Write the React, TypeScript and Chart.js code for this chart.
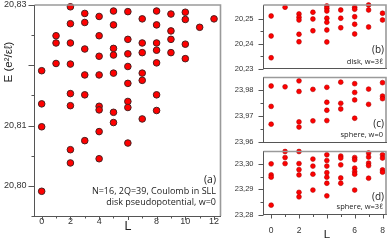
import React, { useEffect, useRef } from 'react';
import { Chart, registerables } from 'chart.js';

Chart.register(...registerables);

// ---------- DATA ----------
// Angular momentum values (x categories)
const mainL = [0, 1, 2, 3, 4, 5, 6, 7, 8, 9, 10, 11, 12];
const smallL = [0, 1, 2, 3, 4, 5, 6, 7, 8];

// Panel (a): energies per L (index = L), disk pseudopotential, w=0
const energiesA: number[][] = [
  [20.8191, 20.8136, 20.8098, 20.7991],
  [20.8249, 20.8237, 20.8203],
  [20.8297, 20.8269, 20.8237, 20.8202, 20.8153, 20.8133, 20.8060, 20.8038],
  [20.8286, 20.8271, 20.8227, 20.8184, 20.8151, 20.8075],
  [20.8281, 20.8249, 20.8215, 20.8184, 20.8132, 20.8126, 20.8090, 20.8045],
  [20.8290, 20.8267, 20.8228, 20.8217, 20.8187, 20.8122, 20.8105],
  [20.8289, 20.8243, 20.8219, 20.8198, 20.8170, 20.8140, 20.8130, 20.8071],
  [20.8277, 20.8237, 20.8221, 20.8187, 20.8175, 20.8111],
  [20.8290, 20.8267, 20.8237, 20.8225, 20.8204, 20.8151, 20.8125],
  [20.8285, 20.8257, 20.8243, 20.8221],
  [20.8288, 20.8276, 20.8235, 20.8211],
  [20.8263],
  [20.8277],
];

// Panel (b): disk, w=3l
const energiesB: number[][] = [
  [20.2510, 20.2430, 20.2343],
  [20.2545],
  [20.2518, 20.2505, 20.2494, 20.2437, 20.2407],
  [20.2525, 20.2498, 20.2451],
  [20.2550, 20.2541, 20.2530, 20.2501, 20.2485, 20.2454, 20.2406],
  [20.2534, 20.2501, 20.2463],
  [20.2545, 20.2537, 20.2507, 20.2477, 20.2438],
  [20.2554, 20.2534, 20.2466],
  [20.2521, 20.2494],
];

// Panel (c): sphere, w=0
const energiesC: number[][] = [
  [23.9817, 23.9738, 23.9669],
  [23.9814],
  [23.9837, 23.9796, 23.9678, 23.9658],
  [23.9804, 23.9682],
  [23.9812, 23.9754, 23.9723, 23.9683],
  [23.9832, 23.9750, 23.9728],
  [23.9826, 23.9792, 23.9763, 23.9692],
  [23.9805, 23.9746],
  [23.9830, 23.9778, 23.9768],
];

// Panel (d): sphere, w=3l
const energiesD: number[][] = [
  [23.3001, 23.2957, 23.2948, 23.2837],
  [23.3050, 23.3026, 23.3002],
  [23.3050, 23.3002, 23.2978, 23.2957, 23.2888, 23.2870],
  [23.3020, 23.2992, 23.2960, 23.2897],
  [23.3037, 23.3014, 23.2992, 23.2966, 23.2948, 23.2924, 23.2874],
  [23.3032, 23.3024, 23.2997, 23.2945, 23.2924],
  [23.3026, 23.3017, 23.2984, 23.2970, 23.2960, 23.2897],
  [23.3044, 23.3028, 23.3004, 23.2994, 23.2944],
  [23.3037, 23.3024, 23.2977, 23.2968],
];

// Tick values
const mainYTicks = [20.795, 20.80, 20.805, 20.81, 20.815, 20.82, 20.825, 20.83];
const mainYLabels = [20.80, 20.81, 20.83];
const mainXLabels = [0, 2, 4, 8, 10, 12];
const bYTicks = [20.23, 20.235, 20.24, 20.245, 20.25];
const cYTicks = [23.96, 23.965, 23.97, 23.975, 23.98];
const dYTicks = [23.28, 23.285, 23.29, 23.295, 23.30];
const smallXLabels = [0, 2, 6, 8];

// ---------- STYLE ----------
const FONT = 'Liberation Sans, Arial, sans-serif';
const NOTE_FONT = 'Open Sans, Liberation Sans, sans-serif';
const AXIS_DARK = '#555555';
const FRAME_GRAY = '#9a9a9a';
const TEXT = '#222222';

type Note = { text: string; x: number; y: number; size: number; align: CanvasTextAlign; rotate?: boolean; family?: string };

const near = (a: number, b: number) => Math.abs(a - b) < 1e-9;
const isMultiple = (v: number, step: number) => Math.abs(v / step - Math.round(v / step)) < 1e-6;

const panelPlugin = {
  id: 'panelDeco',
  afterDraw(chart: any, _args: any, opts: any) {
    const { ctx, chartArea } = chart;
    const { left, right, top, bottom } = chartArea;
    ctx.save();
    // grey frame top & right
    ctx.strokeStyle = FRAME_GRAY;
    ctx.lineWidth = 1.6;
    ctx.beginPath();
    ctx.moveTo(left, top);
    ctx.lineTo(right, top);
    ctx.lineTo(right, bottom);
    ctx.stroke();
    // ticks
    ctx.strokeStyle = AXIS_DARK;
    ctx.lineWidth = 1;
    const ys = chart.scales.y;
    ys.ticks.forEach((t: any) => {
      const p = Math.round(ys.getPixelForValue(t.value)) + 0.5;
      const len = isMultiple(t.value, 0.01) ? opts.yMajorLen : opts.yMinorLen;
      ctx.beginPath();
      ctx.moveTo(left, p);
      ctx.lineTo(left - len, p);
      ctx.stroke();
    });
    if (opts.xTicks) {
      const xs = chart.scales.x;
      xs.ticks.forEach((t: any) => {
        const p = Math.round(xs.getPixelForValue(t.value)) + 0.5;
        const len = isMultiple(t.value, 2) ? opts.xMajorLen : opts.xMinorLen;
        ctx.beginPath();
        ctx.moveTo(p, bottom);
        ctx.lineTo(p, bottom + len);
        ctx.stroke();
      });
    }
    // notes
    ctx.fillStyle = TEXT;
    (opts.notes as Note[]).forEach((n) => {
      ctx.save();
      ctx.font = `${n.size}px ${n.family || NOTE_FONT}`;
      ctx.textAlign = n.align;
      ctx.textBaseline = 'middle';
      ctx.translate(n.x, n.y);
      if (n.rotate) ctx.rotate(-Math.PI / 2);
      ctx.fillText(n.text, 0, 0);
      ctx.restore();
    });
    ctx.restore();
  },
};

type PanelSpec = {
  Ls: number[];
  energies: number[][];
  xMin: number; xMax: number;
  yMin: number; yMax: number;
  yTicks: number[];
  yLabels: number[] | null;
  xLabels: number[] | null;
  yWidth: number; xHeight: number;
  padding: { left: number; right: number; top: number; bottom: number };
  yFont: number; xFont: number;
  yPad: number; xPad: number;
  radius: number; border: number; borderColor: string;
  xTicks: boolean;
  yMajorLen: number; yMinorLen: number; xMajorLen: number; xMinorLen: number;
  notes: Note[];
};

function buildConfig(p: PanelSpec): any {
  const data: { x: number; y: number }[] = [];
  p.energies.forEach((arr, i) => arr.forEach((e) => data.push({ x: p.Ls[i], y: e })));
  const xTickVals: number[] = [];
  for (let v = Math.ceil(p.xMin); v <= p.xMax; v++) xTickVals.push(v);
  return {
    type: 'scatter',
    data: {
      datasets: [
        {
          data,
          backgroundColor: '#ff0000',
          borderColor: p.borderColor,
          borderWidth: p.border,
          pointRadius: p.radius,
          pointHoverRadius: p.radius,
          clip: false,
        },
      ],
    },
    options: {
      responsive: false,
      animation: false,
      events: [],
      layout: { padding: p.padding },
      plugins: {
        legend: { display: false },
        tooltip: { enabled: false },
        panelDeco: {
          notes: p.notes,
          xTicks: p.xTicks,
          yMajorLen: p.yMajorLen, yMinorLen: p.yMinorLen,
          xMajorLen: p.xMajorLen, xMinorLen: p.xMinorLen,
        },
      },
      scales: {
        x: {
          type: 'linear',
          min: p.xMin,
          max: p.xMax,
          afterBuildTicks: (s: any) => { s.ticks = xTickVals.map((v) => ({ value: v })); },
          afterFit: (s: any) => { s.height = p.xHeight; s.paddingLeft = 0; s.paddingRight = 0; },
          grid: { display: false, drawTicks: false },
          border: { display: true, color: AXIS_DARK, width: 1 },
          ticks: {
            display: !!p.xLabels,
            autoSkip: false,
            maxRotation: 0,
            padding: p.xPad,
            color: '#333',
            font: { family: FONT, size: p.xFont },
            callback: (v: number) => (p.xLabels && p.xLabels.some((l) => near(l, v)) ? String(v) : ''),
          },
        },
        y: {
          type: 'linear',
          min: p.yMin,
          max: p.yMax,
          afterBuildTicks: (s: any) => { s.ticks = p.yTicks.map((v) => ({ value: v })); },
          afterFit: (s: any) => { s.width = p.yWidth; s.paddingTop = 0; s.paddingBottom = 0; },
          grid: { display: false, drawTicks: false },
          border: { display: true, color: AXIS_DARK, width: 1 },
          ticks: {
            autoSkip: false,
            padding: p.yPad,
            color: '#333',
            font: { family: FONT, size: p.yFont },
            callback: (v: number) => {
              const labels = p.yLabels || p.yTicks.filter((t) => isMultiple(t, 0.01));
              return labels.some((l) => near(l, v)) ? v.toFixed(2).replace('.', ',') : '';
            },
          },
        },
      },
    },
    plugins: [panelPlugin],
  };
}

const W = 390;
const H = 241;

const smallCommon = {
  Ls: smallL,
  xMin: -0.55, xMax: 8.25,
  yWidth: 30,
  yFont: 7.5, xFont: 8.5,
  yPad: 10, xPad: 11.5,
  radius: 2.4, border: 0.6, borderColor: '#b00000',
  yMajorLen: 5, yMinorLen: 3, xMajorLen: 4, xMinorLen: 2.5,
};

const panels: PanelSpec[] = [
  {
    Ls: mainL,
    energies: energiesA,
    xMin: -0.5, xMax: 12.45,
    yMin: 20.795, yMax: 20.83,
    yTicks: mainYTicks, yLabels: mainYLabels, xLabels: mainXLabels,
    yWidth: 34.5, xHeight: 25,
    padding: { left: 0, right: W - 220.5, top: 5, bottom: 0 },
    yFont: 9, xFont: 9, yPad: 8, xPad: 0.5,
    radius: 3.3, border: 1, borderColor: '#4a2020',
    xTicks: true,
    yMajorLen: 6, yMinorLen: 3, xMajorLen: 4, xMinorLen: 2.5,
    notes: [
      { text: '(a)', x: 216, y: 180, size: 10.5, align: 'right' },
      { text: 'N=16, 2Q=39, Coulomb in SLL', x: 216, y: 191, size: 9, align: 'right' },
      { text: 'disk pseudopotential, w=0', x: 216, y: 202, size: 9, align: 'right' },
      { text: 'E (e²/εℓ)', x: 9, y: 62, size: 11.5, align: 'center', rotate: true, family: FONT },
      { text: 'L', x: 128, y: 227, size: 12.5, align: 'center', family: FONT },
    ],
  },
  {
    ...smallCommon,
    energies: energiesB,
    yMin: 20.23, yMax: 20.2554,
    yTicks: bYTicks, yLabels: null, xLabels: null,
    xHeight: 0, xTicks: false,
    padding: { left: 233.5, right: 4, top: 5, bottom: H - 68.5 },
    notes: [
      { text: '(b)', x: 384, y: 50.5, size: 10, align: 'right' },
      { text: 'disk, w=3ℓ', x: 383, y: 62, size: 7.5, align: 'right' },
    ],
  } as PanelSpec,
  {
    ...smallCommon,
    energies: energiesC,
    yMin: 23.96, yMax: 23.985,
    yTicks: cYTicks, yLabels: null, xLabels: null,
    xHeight: 0, xTicks: false,
    padding: { left: 233.5, right: 4, top: 77.5, bottom: H - 142 },
    notes: [
      { text: '(c)', x: 384, y: 124, size: 10, align: 'right' },
      { text: 'sphere, w=0', x: 383, y: 135, size: 7.5, align: 'right' },
    ],
  } as PanelSpec,
  {
    ...smallCommon,
    energies: energiesD,
    yMin: 23.28, yMax: 23.305,
    yTicks: dYTicks, yLabels: null, xLabels: smallXLabels,
    xHeight: H - 214.5, xTicks: true,
    padding: { left: 233.5, right: 4, top: 151.5, bottom: 0 },
    notes: [
      { text: '(d)', x: 384, y: 197, size: 10, align: 'right' },
      { text: 'sphere, w=3ℓ', x: 383, y: 207, size: 7.5, align: 'right' },
      { text: 'L', x: 327, y: 234.5, size: 11.5, align: 'center', family: FONT },
    ],
  } as PanelSpec,
];

function PanelCanvas({ spec }: { spec: PanelSpec }) {
  const ref = useRef<HTMLCanvasElement | null>(null);
  useEffect(() => {
    if (!ref.current) return;
    const chart = new Chart(ref.current, buildConfig(spec));
    return () => chart.destroy();
  }, [spec]);
  return (
    <canvas
      ref={ref}
      width={W}
      height={H}
      style={{ position: 'absolute', left: 0, top: 0, width: W, height: H }}
    />
  );
}

export default function App() {
  return (
    <div style={{ position: 'absolute', left: 0, top: 0, width: W, height: H, background: '#ffffff', overflow: 'hidden' }}>
      {panels.map((p, i) => (
        <PanelCanvas key={i} spec={p} />
      ))}
    </div>
  );
}
